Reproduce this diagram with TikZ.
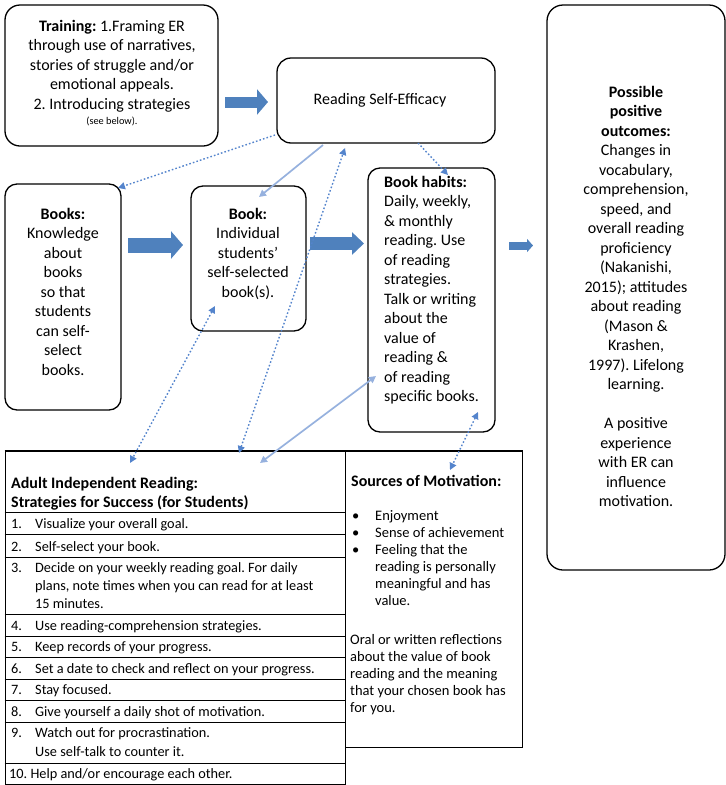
\documentclass[tikz,border=0pt]{standalone}
\usepackage{fontspec}
\setmainfont{Carlito}
\usetikzlibrary{arrows.meta}
\definecolor{thickblue}{RGB}{79,129,189}
\definecolor{dotblue}{RGB}{84,132,204}
\definecolor{lightblue}{RGB}{150,177,222}
\newcommand\fA{\fontsize{16}{19.5}\selectfont}
\newcommand\fT{\fontsize{14.3}{18.5}\selectfont}
\newcommand\fS{\fontsize{14.5}{17}\selectfont}
\newcommand\fH{\fontsize{16}{19}\selectfont\bfseries}
\frenchspacing
\begin{document}
\frenchspacing
\begin{tikzpicture}[x=1pt,y=-1pt,
  box/.style={draw, line width=1.3pt, rounded corners=#1, inner sep=0pt},
  box/.default=14pt,
  txt/.style={inner sep=0pt, font=\fA},
  fatarrow/.style n args={3}{draw=thickblue, line width=#1, -{Triangle[width=#2,length=#3]}},
  dotline/.style={draw=dotblue, line width=1.4pt, dash pattern=on 1.6pt off 2.1pt},
  softline/.style={draw=lightblue, line width=1.7pt},
  tipA/.tip={Triangle[length=7pt,width=7pt]},
  row/.style={anchor=base west, inner sep=0pt, font=\fT},
  srow/.style={anchor=base west, inner sep=0pt, font=\fS},
  gridline/.style={draw, line width=1pt}
]
\useasboundingbox (0,0) rectangle (726,785);

% ---------- boxes ----------
\node[box=15pt, minimum width=213pt, minimum height=141pt] (train) at (111.5,75.5) {};
\node[txt, anchor=north, align=center] (traintxt) at (112,20)
  {\textbf{Training:} 1.Framing ER\\through use of narratives,\\stories of struggle and/or\\emotional appeals.\\2. Introducing strategies\\[-4pt]{\fontsize{10.3}{12}\selectfont (see below).}};

\node[box, minimum width=218pt, minimum height=85pt] (rse) at (386,100.5) {};
\node[txt] (rsetxt) at (380,100) {Reading Self-Efficacy};

\node[box=12pt, minimum width=116pt, minimum height=226pt] (books) at (63,297) {};
\node[txt, anchor=north, align=center] (bookstxt) at (63,208)
  {\textbf{Books:}\\Knowledge\\about\\books\\so that\\students\\can self-\\select\\books.};

\node[box=12pt, minimum width=115pt, minimum height=145pt] (book) at (248.5,258.5) {};
\node[txt, anchor=north, align=center] (booktxt) at (248,208)
  {\textbf{Book:}\\Individual\\students’\\self-selected\\book(s).};

\node[box=12pt, minimum width=127pt, minimum height=264pt] (habits) at (431.5,300) {};
\node[txt, anchor=north west, align=left] (habitstxt) at (384,176)
  {\textbf{Book habits:}\\Daily, weekly,\\\& monthly\\reading. Use\\of reading\\strategies.\\Talk or writing\\about the\\value of\\reading \&\\of reading\\specific books.};

\node[box=16pt, minimum width=178pt, minimum height=565pt] (outc) at (636,287.5) {};
\node[txt, anchor=north, align=center] (outctxt) at (636,86)
  {\textbf{Possible}\\\textbf{positive}\\\textbf{outcomes:}\\Changes in\\vocabulary,\\comprehension,\\speed, and\\overall reading\\proficiency\\(Nakanishi,\\2015); attitudes\\about reading\\(Mason \&\\Krashen,\\1997). Lifelong\\learning.\\[19.5pt]A positive\\experience\\with ER can\\influence\\motivation.};

% ---------- thick arrows ----------
\coordinate (f1a) at (225,102); \coordinate (f1b) at (268,102);
\coordinate (f2a) at (128,245); \coordinate (f2b) at (183,245);
\coordinate (f3a) at (310,243.5); \coordinate (f3b) at (364,243.5);
\coordinate (f4a) at (509,245.5); \coordinate (f4b) at (533,245.5);
\draw[fatarrow={11pt}{25pt}{11pt}] (f1a) -- (f1b);
\draw[fatarrow={15pt}{27pt}{12pt}] (f2a) -- (f2b);
\draw[fatarrow={13pt}{22pt}{12pt}] (f3a) -- (f3b);
\draw[fatarrow={8pt}{13pt}{6pt}] (f4a) -- (f4b);

% ---------- table ----------
\node[draw, line width=1pt, inner sep=0pt, minimum width=340pt, minimum height=333pt] (tbl) at (175,617.5) {};
\node[draw, line width=1pt, inner sep=0pt, minimum width=177pt, minimum height=296pt] (src) at (433.5,599) {};
\draw[line width=2pt] (tbl.north west) -- (src.north east);
\foreach \yy in {512,534,557,614,636,657,679,700,722,763}
  \draw[gridline] (tbl.west |- 0,\yy) -- (tbl.east |- 0,\yy);

\node[anchor=base west, inner sep=0pt, font=\fH] (th1) at (11,488) {Adult Independent Reading:};
\node[anchor=base west, inner sep=0pt, font=\fH] (th2) at (11,507) {Strategies for Success (for Students)};

\node[row] (r1) at (11,528) {\makebox[24pt][l]{1.}Visualize your overall goal.};
\node[row] (r2) at (11,551) {\makebox[24pt][l]{2.}Self-select your book.};
\node[row] (r3a) at (11,572.5) {\makebox[24pt][l]{3.}Decide on your weekly reading goal. For daily};
\node[row] (r3b) at (35,590.5) {plans, note times when you can read for at least};
\node[row] (r3c) at (35,608.5) {15 minutes.};
\node[row] (r4) at (11,630) {\makebox[24pt][l]{4.}Use reading-comprehension strategies.};
\node[row] (r5) at (11,651.5) {\makebox[24pt][l]{5.}Keep records of your progress.};
\node[row] (r6) at (11,673) {\makebox[24pt][l]{6.}Set a date to check and reflect on your progress.};
\node[row] (r7) at (11,694.5) {\makebox[24pt][l]{7.}Stay focused.};
\node[row] (r8) at (11,716) {\makebox[24pt][l]{8.}Give yourself a daily shot of motivation.};
\node[row] (r9a) at (11,737.5) {\makebox[24pt][l]{9.}Watch out for procrastination.};
\node[row] (r9b) at (35,756.5) {Use self-talk to counter it.};
\node[row] (r10) at (9,778.5) {10. Help and/or encourage each other.};

% ---------- sources ----------
\node[anchor=base west, inner sep=0pt, font=\fH] (sh) at (351,486.5) {Sources of Motivation:};
\node[srow] (b1) at (352,520.5) {•};
\node[srow] (b2) at (352,537.5) {•};
\node[srow] (b3) at (352,554.5) {•};
\foreach \yy/\t [count=\i] in {520.5/Enjoyment,537.5/Sense of achievement,554.5/Feeling that the,571.5/reading is personally,588.5/meaningful and has,605.5/value.}
  \node[srow] (sl\i) at (375,\yy) {\t};
\foreach \yy/\t [count=\i] in {644.5/Oral or written reflections,661.5/about the value of book,678.5/reading and the meaning,695.5/that your chosen book has,712.5/for you.}
  \node[srow] (so\i) at (350,\yy) {\t};

% ---------- thin connectors ----------
\coordinate (c1a) at (275,135); \coordinate (c1b) at (118,188);
\coordinate (c2a) at (323,145); \coordinate (c2b) at (259,197);
\coordinate (c3a) at (239,453); \coordinate (c3b) at (345,148);
\coordinate (c4a) at (215,306); \coordinate (c4b) at (130,463);
\coordinate (c5a) at (376,376); \coordinate (c5b) at (260,463);
\coordinate (c6a) at (418,143); \coordinate (c6b) at (448,175);
\coordinate (c7a) at (478,412); \coordinate (c7b) at (450,470);
\draw[dotline, -tipA] (c1a) -- (c1b);
\draw[softline, -tipA] (c2a) -- (c2b);
\draw[dotline, tipA-tipA] (c3a) -- (c3b);
\draw[dotline, tipA-tipA] (c4a) -- (c4b);
\draw[softline, tipA-tipA] (c5a) -- (c5b);
\draw[dotline, -tipA] (c6a) -- (c6b);
\draw[dotline, tipA-tipA] (c7a) -- (c7b);
\end{tikzpicture}
\end{document}
